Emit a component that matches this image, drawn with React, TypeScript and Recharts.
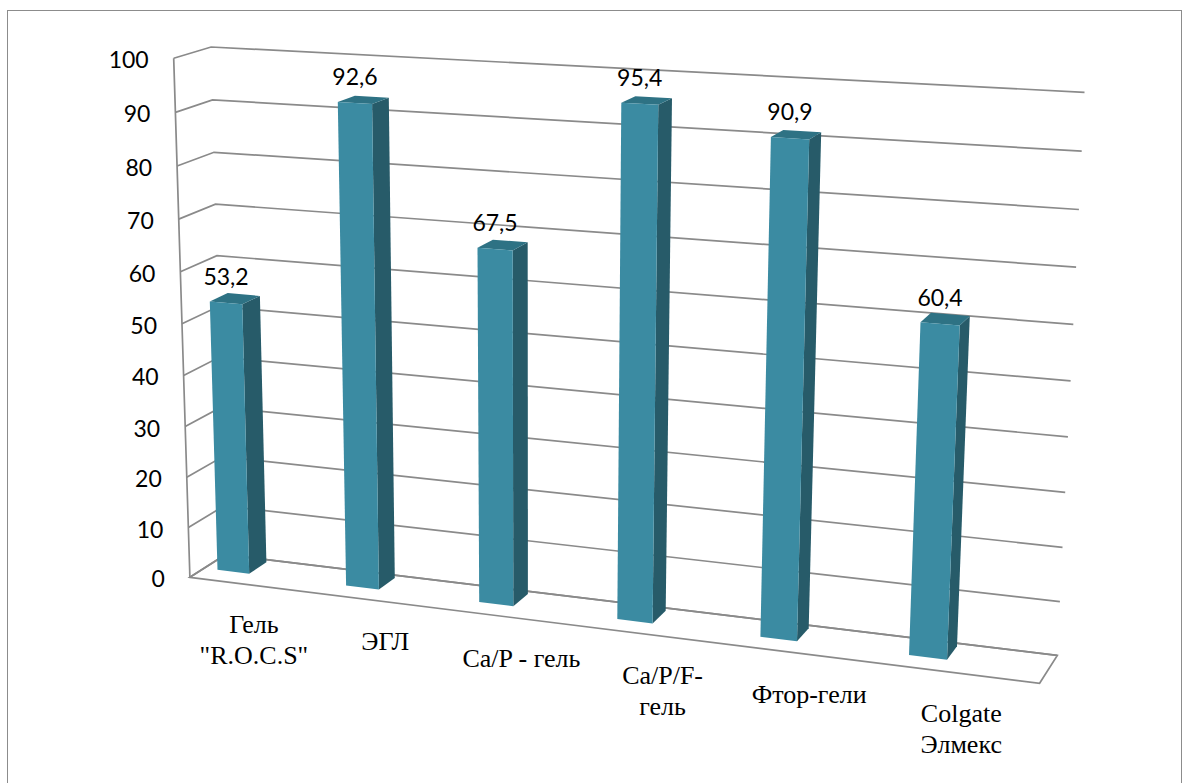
import { Bar, BarChart, CartesianGrid, LabelList, XAxis, YAxis } from 'recharts';

const categories = [
  'Гель\n"R.O.C.S"',
  'ЭГЛ',
  'Ca/P - гель',
  'Ca/P/F-\nгель',
  'Фтор-гели',
  'Colgate\nЭлмекс',
];
const values = [53.2, 92.6, 67.5, 95.4, 90.9, 60.4];
const yTicks = [0, 10, 20, 30, 40, 50, 60, 70, 80, 90, 100];

const data = categories.map((name, i) => ({ name, value: values[i] }));

const W = 1188;
const H = 783;
const YW = 60;
const XH = 30;
// flat plot area that recharts lays the bars out in
const PLOT = { x: YW, y: 0, w: W - YW, h: H - XH };

// the 3d box seen in the picture: [u, v, depth, screen x, screen y]
// u: 0 left .. 1 right, v: 0 floor .. 1 top, depth: 0 front .. 1 back wall
const VIEW = [
  [0, 1, 1, 215, 47],
  [1, 1, 1, 1085, 93],
  [1, 0, 1, 1058, 652],
  [0, 0, 1, 221, 558],
  [0, 1, 0, 169, 59],
  [0, 0, 0, 194, 575],
  [1, 0, 0, 1039, 687],
  [0, 0.5, 0, 183, 322],
  [1, 0.5, 1, 1070, 380],
];

const D_FRONT = 0.4;
const D_BACK = 0.9;
const BAR_SHIFT = -0.045;

const FRONT = '#3B8BA2';
const SIDE = '#275B69';
const TOP = '#2E7284';
const GRID = '#8a8a8a';

const SANS = 'Lato, Open Sans, sans-serif';
const SERIF = 'Liberation Serif, Times New Roman, serif';

// least squares fit of a 3x4 projective camera
function fitCamera(pts: number[][]) {
  const n = 11;
  const m = Array.from({ length: n }, () => new Array(n + 1).fill(0));
  const add = (row: number[], rhs: number) => {
    for (let i = 0; i < n; i++) {
      for (let j = 0; j < n; j++) m[i][j] += row[i] * row[j];
      m[i][n] += row[i] * rhs;
    }
  };
  for (const [u, v, d, sx, sy] of pts) {
    const x = sx / 1000;
    const y = sy / 1000;
    add([u, v, d, 1, 0, 0, 0, 0, -x * u, -x * v, -x * d], x);
    add([0, 0, 0, 0, u, v, d, 1, -y * u, -y * v, -y * d], y);
  }
  for (let c = 0; c < n; c++) {
    let p = c;
    for (let r = c + 1; r < n; r++) if (Math.abs(m[r][c]) > Math.abs(m[p][c])) p = r;
    [m[c], m[p]] = [m[p], m[c]];
    for (let r = 0; r < n; r++) {
      if (r === c) continue;
      const f = m[r][c] / m[c][c];
      for (let k = c; k <= n; k++) m[r][k] -= f * m[c][k];
    }
  }
  return m.map((r, i) => r[n] / r[i]);
}

const cam = fitCamera(VIEW);

function project(u: number, v: number, d: number) {
  const w = cam[8] * u + cam[9] * v + cam[10] * d + 1;
  const x = (cam[0] * u + cam[1] * v + cam[2] * d + cam[3]) / w;
  const y = (cam[4] * u + cam[5] * v + cam[6] * d + cam[7]) / w;
  return [x * 1000, y * 1000];
}

const poly = (pts: number[][]) =>
  pts
    .map(([u, v, d]) => project(u, v, d))
    .map(([x, y]) => `${x.toFixed(1)},${y.toFixed(1)}`)
    .join(' ');

const toU = (px: number) => (px - PLOT.x) / PLOT.w;
const toV = (py: number) => (PLOT.y + PLOT.h - py) / PLOT.h;

function GridLine(props: any) {
  const v = toV(props.y1);
  return (
    <g>
      <polyline
        points={poly([[0, v, 0], [0, v, 1], [1, v, 1]])}
        fill="none"
        stroke={GRID}
        strokeWidth={1.7}
      />
      {v < 0.001 && (
        <>
          <polygon
            points={poly([[0, 0, 0], [1, 0, 0], [1, 0, 1], [0, 0, 1]])}
            fill="none"
            stroke={GRID}
            strokeWidth={1.7}
          />
          <polyline points={poly([[0, 0, 0], [0, 1, 0]])} fill="none" stroke={GRID} strokeWidth={1.7} />
        </>
      )}
    </g>
  );
}

function Bar3D(props: any) {
  const { x, y, width, height } = props;
  const u0 = toU(x) + BAR_SHIFT;
  const u1 = toU(x + width) + BAR_SHIFT;
  const v1 = toV(y);
  const v0 = toV(y + height);
  const front = [[u0, v0, D_FRONT], [u1, v0, D_FRONT], [u1, v1, D_FRONT], [u0, v1, D_FRONT]];
  const side = [[u1, v0, D_FRONT], [u1, v0, D_BACK], [u1, v1, D_BACK], [u1, v1, D_FRONT]];
  const top = [[u0, v1, D_FRONT], [u1, v1, D_FRONT], [u1, v1, D_BACK], [u0, v1, D_BACK]];
  return (
    <g>
      <polygon points={poly(side)} fill={SIDE} />
      <polygon points={poly(top)} fill={TOP} />
      <polygon points={poly(front)} fill={FRONT} />
    </g>
  );
}

function ValueLabel(props: any) {
  const box = props.viewBox ?? props;
  const uc = toU(box.x + box.width / 2) + BAR_SHIFT;
  const [x, y] = project(uc, toV(box.y), D_FRONT);
  return (
    <text x={x} y={y - 18} textAnchor="middle" fontFamily={SANS} fontSize={23} fill="#000">
      {String(props.value).replace('.', ',')}
    </text>
  );
}

function XTick(props: any) {
  const [x, y] = project(toU(props.x), 0, 0);
  const lines = String(props.payload.value).split('\n');
  return (
    <text x={x} y={y + 48} textAnchor="middle" fontFamily={SERIF} fontSize={26} fill="#000">
      {lines.map((line, i) => (
        <tspan key={i} x={x} dy={i === 0 ? 0 : 31}>
          {line}
        </tspan>
      ))}
    </text>
  );
}

function YTick(props: any) {
  const coord = props.payload?.coordinate ?? props.y;
  const [x, y] = project(0, toV(coord), 0);
  return (
    <text x={x - 25} y={y + 10} textAnchor="end" fontFamily={SANS} fontSize={23} fill="#000">
      {props.payload.value}
    </text>
  );
}

export default function App() {
  return (
    <div
      style={{
        position: 'absolute',
        left: 0,
        top: 0,
        width: W,
        height: H,
        overflow: 'hidden',
        background: '#fff',
      }}
    >
      <div
        style={{
          position: 'absolute',
          left: 7,
          top: 10,
          width: 1173,
          height: 800,
          border: '1px solid #8c8c8c',
        }}
      />
      <div style={{ position: 'absolute', left: 0, top: 0 }}>
        <BarChart
          width={W}
          height={H}
          data={data}
          margin={{ top: 0, right: 0, bottom: 0, left: 0 }}
          barCategoryGap="37.5%"
        >
          <CartesianGrid vertical={false} horizontal={(p: any) => <GridLine key={p.key ?? p.index} {...p} />} />
          <XAxis
            dataKey="name"
            height={XH}
            axisLine={false}
            tickLine={false}
            interval={0}
            tick={XTick}
          />
          <YAxis
            domain={[0, 100]}
            ticks={yTicks}
            width={YW}
            axisLine={false}
            tickLine={false}
            tick={YTick}
          />
          <Bar dataKey="value" isAnimationActive={false} shape={Bar3D}>
            <LabelList dataKey="value" content={ValueLabel} />
          </Bar>
        </BarChart>
      </div>
    </div>
  );
}
